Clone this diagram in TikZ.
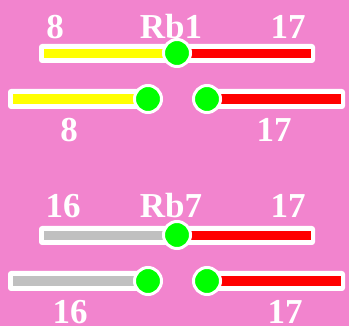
\documentclass[tikz,border=0pt]{standalone}
\usepackage{fontspec}
\setmainfont{Liberation Serif}
\definecolor{bgpink}{RGB}{242,132,206}
\definecolor{knob}{RGB}{0,255,0}
\definecolor{barred}{RGB}{255,0,0}
\definecolor{baryellow}{RGB}{255,255,0}
\definecolor{bargray}{RGB}{192,192,192}
\tikzset{
  lbl/.style={text=white, font=\fontsize{35}{35}\selectfont\bfseries, inner sep=0pt, anchor=center},
  frame/.style={fill=white, rounded corners=3pt},
  knobc/.style={fill=knob, draw=white, line width=3pt},
}
\begin{document}
\begin{tikzpicture}[x=1pt,y=-1pt]
\fill[bgpink] (0,0) rectangle (349,326);
\useasboundingbox (0,0) rectangle (349,326);
\foreach \dy/\lc/\la/\lb/\lr/\ll/\lrr in {0/baryellow/8/Rb1/17/8/17, 182/bargray/16/Rb7/17/16/17}{
  \begin{scope}[yshift=-\dy pt]
  % top bar
  \fill[frame] (39,44) rectangle (315,63);
  \fill[\lc] (44,49) rectangle (170,58);
  \fill[barred] (185,49) rectangle (311,58);
  \draw[knobc] (177,53) circle (13.5);
  % bottom left
  \fill[frame] (8,89) rectangle (150,109);
  \fill[\lc] (13,94) rectangle (140,104);
  \draw[knobc] (148,99) circle (13.5);
  % bottom right
  \fill[frame] (207,89) rectangle (345,109);
  \fill[barred] (215,94) rectangle (341,104);
  \draw[knobc] (207,99) circle (13.5);
  \end{scope}
}
\node[lbl] (a1) at (55,27) {8};
\node[lbl] (b1) at (171,27) {Rb1};
\node[lbl] (c1) at (288,27) {17};
\node[lbl] (d1) at (69,130) {8};
\node[lbl] (e1) at (274,130) {17};
\node[lbl] (a2) at (63,206) {16};
\node[lbl] (b2) at (171,206) {Rb7};
\node[lbl] (c2) at (288,206) {17};
\node[lbl] (d2) at (70,312) {16};
\node[lbl] (e2) at (285,312) {17};
\end{tikzpicture}
\end{document}
